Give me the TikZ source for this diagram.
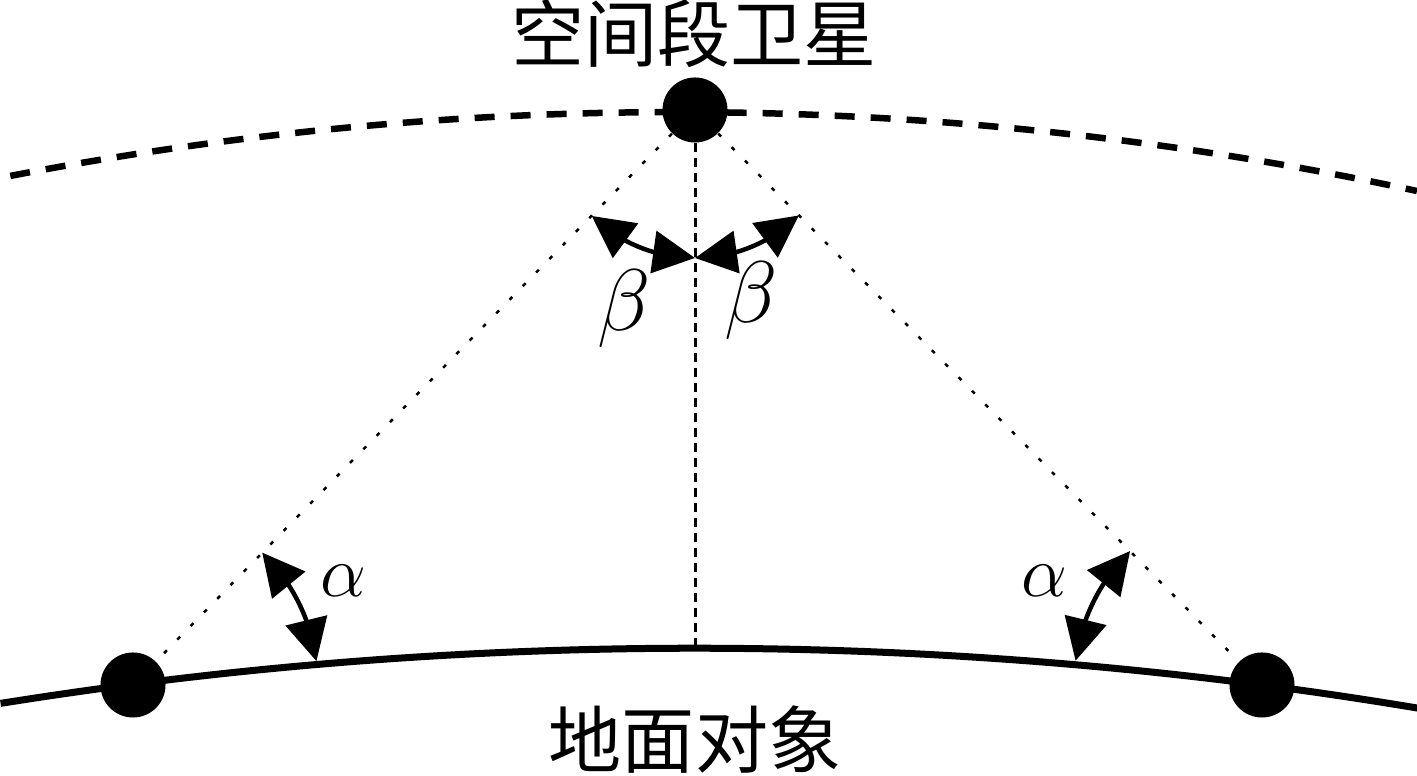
\documentclass[tikz,border=0pt]{standalone}
\usepackage{amsmath}
\usepackage{fontspec}
\newfontfamily\cjk{Noto Sans CJK SC}
\usepackage{tikz}
\usetikzlibrary{arrows.meta,bending}
\tikzset{
  dot/.style={circle,fill=black,inner sep=0pt,minimum size=0.65cm},
  orbitline/.style={line width=0.065cm,dash pattern=on 0.2cm off 0.16cm},
  groundline/.style={line width=0.07cm},
  sightline/.style={line width=0.025cm,dash pattern=on 0.04cm off 0.15cm},
  vline/.style={line width=0.03cm,dash pattern=on 0.09cm off 0.06cm},
  anglearc/.style={line width=0.045cm,{Triangle[length=0.42cm,width=0.42cm]}-{Triangle[length=0.42cm,width=0.42cm]}},
  lbl/.style={font=\cjk\fontsize{20.8}{22}\selectfont}
}
\begin{document}
\begin{tikzpicture}[x=0.01cm,y=0.01cm]
\useasboundingbox (0,0) rectangle (1417,776);
% orbit and ground
\coordinate (oc) at (677,-2846);
\coordinate (gc) at (695,-4263);
\draw[orbitline] (oc) ++(100.95:3510) arc[start angle=100.95,end angle=77.83,radius=3510];
\draw[groundline] (gc) ++(99.1:4391) arc[start angle=99.1,end angle=80.5,radius=4391];
\coordinate (G) at (695,128);
% satellite and ground objects
\node[dot] (S) at (695,666) {};
\node[dot] (L) at (133,91) {};
\node[dot] (R) at (1262,91) {};
\draw[sightline] (S) -- (L);
\draw[sightline] (S) -- (R);
\draw[vline] (S) -- (G);
% angles
\draw[anglearc] ([shift=(225.7:148)]S.center) arc[start angle=225.7,end angle=270,radius=148];
\draw[anglearc] ([shift=(270:148)]S.center) arc[start angle=270,end angle=314.55,radius=148];
\draw[anglearc] ([shift=(45.7:185)]L.center) arc[start angle=45.7,end angle=7.4,radius=185];
\draw[anglearc] ([shift=(134.55:188)]R.center) arc[start angle=134.55,end angle=172.6,radius=188];
\node (b1) at (624,467) {\fontsize{24}{24}\selectfont $\beta$};
\node (b2) at (751,475) {\fontsize{24}{24}\selectfont $\beta$};
\node (a1) at (343,195) {\fontsize{20}{20}\selectfont $\alpha$};
\node (a2) at (1044,195) {\fontsize{20}{20}\selectfont $\alpha$};
% labels
\node[lbl] (sat) at (694,742) {空间段卫星};
\node[lbl] (obj) at (695,36) {地面对象};
\end{tikzpicture}
\end{document}
